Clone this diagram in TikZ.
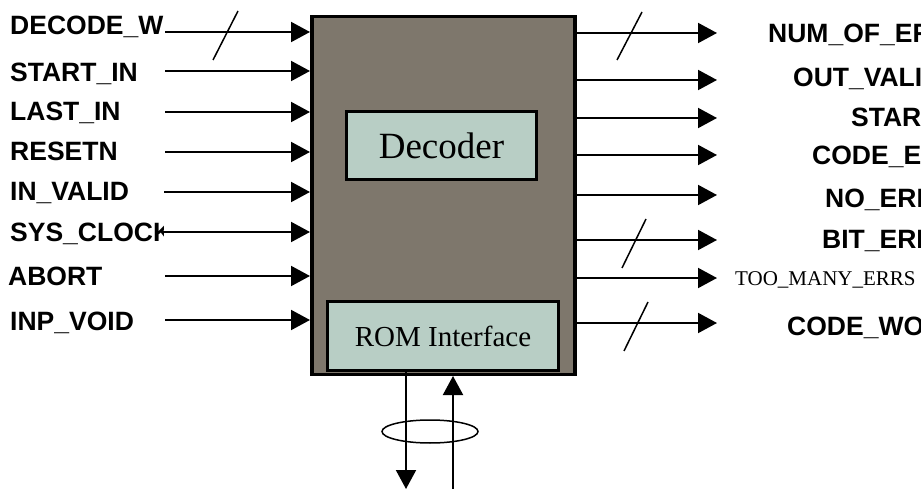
\documentclass[tikz,border=0pt]{standalone}
\usepackage{fontspec}
\setmainfont{Liberation Serif}
\setsansfont{Liberation Sans}
\usetikzlibrary{arrows.meta}
\definecolor{chipfill}{HTML}{7E776C}
\definecolor{subfill}{HTML}{B8CEC5}
\begin{document}
\begin{tikzpicture}[x=1pt,y=-1pt,
  sig/.style={line width=2pt,-{Triangle[length=19pt,width=20pt]}},
  wire/.style={line width=2pt},
  slash/.style={line width=1.5pt},
  lbl/.style={font=\sffamily\bfseries\fontsize{26.5}{28}\selectfont,anchor=base west,inner sep=0pt},
  tlbl/.style={font=\rmfamily\fontsize{21}{23}\selectfont,anchor=base west,inner sep=0pt},
  subbox/.style={draw,line width=3.5pt,fill=subfill,inner sep=0pt},
]
\useasboundingbox (0,0) rectangle (921,489);
\clip (0,0) rectangle (921,489);
\fill[white] (0,0) rectangle (921,489);

% main block
\node[draw,line width=3.5pt,fill=chipfill,minimum width=263pt,minimum height=357.5pt,inner sep=0pt,anchor=north west] (chip) at (310,15) {};

% left labels
\node[lbl] (lDW) at (10,35) {DECODE\_W};
\node[lbl] (lSI) at (10,82) {START\_IN};
\node[lbl] (lLI) at (10,121) {LAST\_IN};
\node[lbl] (lRS) at (10,161) {RESETN};
\node[lbl] (lIV) at (10,201) {IN\_VALID};
\begin{scope}
  \clip (0,215) rectangle (163,250);
  \node[lbl] (lSC) at (10,242) {SYS\_CLOCK};
\end{scope}
\node[lbl] (lAB) at (8,285) {ABORT};
\node[lbl] (lIP) at (10,330) {INP\_VOID};

% left input start points
\coordinate (iDW) at (165,32);
\coordinate (iSI) at (165,71);
\coordinate (iLI) at (165,112);
\coordinate (iRS) at (165,152);
\coordinate (iIV) at (164,192);
\coordinate (iSC) at (162,232);
\coordinate (iAB) at (165,276);
\coordinate (iIP) at (165,320);

\foreach \c in {iDW,iSI,iLI,iRS,iIV,iSC,iAB,iIP}
  \draw[sig] (\c) -- (chip.west |- \c);

% right output end points
\coordinate (oNE) at (717,33);
\coordinate (oOV) at (717,80);
\coordinate (oST) at (717,118);
\coordinate (oCE) at (717,155);
\coordinate (oNO) at (717,195);
\coordinate (oBE) at (717,240);
\coordinate (oTM) at (717,278);
\coordinate (oCW) at (717,323);

\foreach \c in {oNE,oOV,oST,oCE,oNO,oBE,oTM,oCW}
  \draw[sig] (chip.east |- \c) -- (\c);

% right labels
\node[lbl] (rNE) at (768,43) {NUM\_OF\_ER};
\node[lbl] (rOV) at (793,87) {OUT\_VALI};
\node[lbl] (rST) at (851,127) {START};
\node[lbl] (rCE) at (812,165) {CODE\_ER};
\node[lbl] (rNO) at (825,208) {NO\_ERR};
\node[lbl] (rBE) at (822,248) {BIT\_ERR};
\node[tlbl] (rTM) at (735,285) {TOO\_MANY\_ERRS};
\node[lbl] (rCW) at (787,335) {CODE\_WO};

% bus slashes
\draw[slash] (213,60) -- (238,11);
\draw[slash] (617,60) -- (642,12);
\draw[slash] (622,268) -- (646,219);
\draw[slash] (624,351) -- (648,302);

% inner blocks
\node[subbox,minimum width=190pt,minimum height=68pt,font=\rmfamily\fontsize{37}{40}\selectfont] (dec) at (441.5,145.5) {Decoder};
\node[subbox,minimum width=231pt,minimum height=69pt,font=\rmfamily\fontsize{29}{32}\selectfont] (rom) at (443,336) {ROM Interface\hspace{12pt}};

% ROM bus
\coordinate (dn) at (406,489);
\coordinate (up) at (453,489);
\draw[sig] (rom.south -| dn) -- (dn);
\draw[sig] (up) -- (chip.south -| up);
\draw[line width=1.5pt] (430,431.5) ellipse [x radius=48pt,y radius=11.5pt];
\end{tikzpicture}
\end{document}
